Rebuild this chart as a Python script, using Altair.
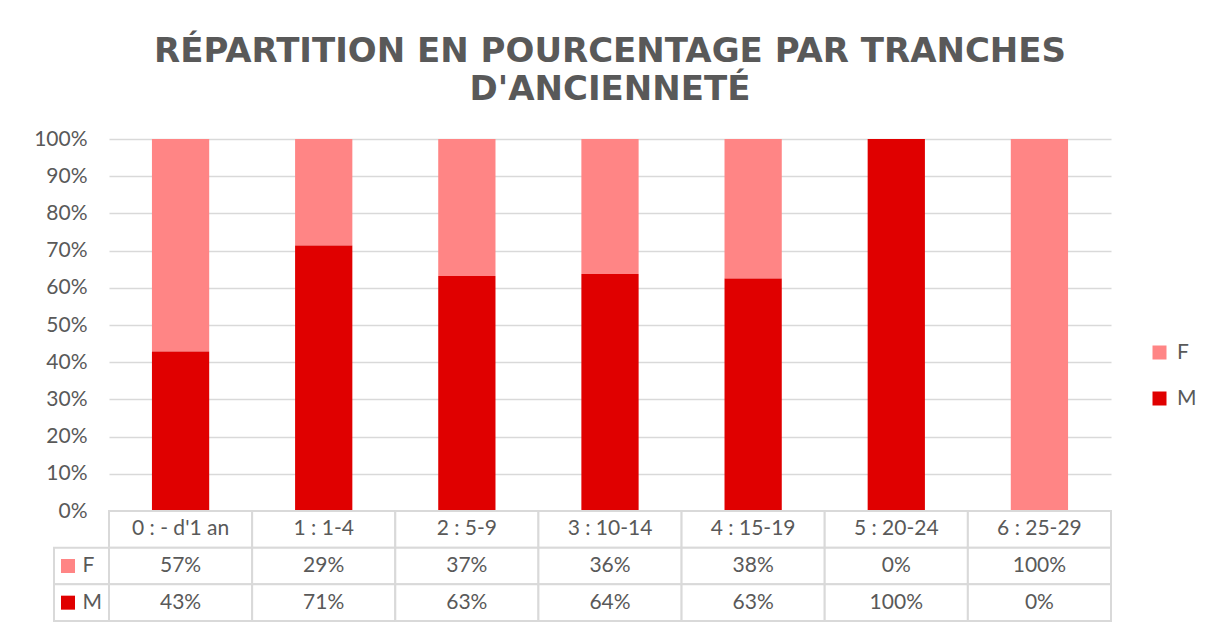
import altair as alt
import pandas as pd

categories = ["0 : - d'1 an", "1 : 1-4", "2 : 5-9", "3 : 10-14", "4 : 15-19", "5 : 20-24", "6 : 25-29"]
series = ["F", "M"]
f_values = [0.571, 0.286, 0.368, 0.363, 0.375, 0.0, 1.0]
m_values = [0.429, 0.714, 0.632, 0.637, 0.625, 1.0, 0.0]
series_colors = ["#FF8585", "#E00000"]
y_ticks = [0.0, 0.1, 0.2, 0.3, 0.4, 0.5, 0.6, 0.7, 0.8, 0.9, 1.0]
table_rows = ["cat", "F", "M"]
title_lines = ["RÉPARTITION EN POURCENTAGE PAR TRANCHES", "D'ANCIENNETÉ"]

TEXT = "#595959"
GRID = "#D9D9D9"
FONT = "Lato"
FS = 21
W, HP, HT = 1002, 372, 110

records = []
for i, c in enumerate(categories):
    records.append({"cat": c, "series": "F", "value": f_values[i], "order": 2})
    records.append({"cat": c, "series": "M", "value": m_values[i], "order": 1})
df = pd.DataFrame(records)
header_df = pd.DataFrame({"cat": categories, "row": ["cat"] * len(categories)})
cells_df = pd.DataFrame([{"cat": c, "row": r} for c in categories for r in table_rows])
lab_df = pd.DataFrame({"series": series, "col": ["lab"] * len(series)})

color = alt.Color(
    "series:N",
    scale=alt.Scale(domain=series, range=series_colors),
    legend=alt.Legend(
        title=None, orient="none", legendX=1040, legendY=203,
        symbolType="square", symbolSize=196, symbolStrokeWidth=0,
        labelFont=FONT, labelFontSize=FS, labelColor=TEXT,
        labelOffset=7, rowPadding=24, padding=0,
    ),
)

def x_tab():
    return alt.X("cat:N", sort=categories, axis=None, bandPosition=0.5,
                 scale=alt.Scale(type="band", domain=categories, paddingInner=0, paddingOuter=0))

def y_tab(field):
    return alt.Y(field, axis=None, bandPosition=0.5,
                 scale=alt.Scale(type="band", domain=table_rows, range=[HP, HP + HT],
                                 paddingInner=0, paddingOuter=0))

def x_lab():
    return alt.X("col:N", axis=None, bandPosition=0.5,
                 scale=alt.Scale(type="band", domain=["lab"], range=[-55, 0],
                                 paddingInner=0, paddingOuter=0))

bars = alt.Chart(df).mark_bar().encode(
    x=alt.X("cat:N", sort=categories, axis=None,
            scale=alt.Scale(type="band", domain=categories, paddingInner=0.6, paddingOuter=0.3)),
    y=alt.Y("value:Q", stack="zero",
            scale=alt.Scale(domain=[0, 1], range=[HP, 0]),
            axis=alt.Axis(values=y_ticks, format=".0%", title=None, domain=False, ticks=False,
                          grid=True, gridColor=GRID, gridWidth=1.5,
                          labelFont=FONT, labelFontSize=FS, labelColor=TEXT, labelPadding=22)),
    color=color,
    order=alt.Order("order:Q"),
)

cells = alt.Chart(cells_df).mark_rect(fill="white", stroke=GRID, strokeWidth=2).encode(
    x=x_tab(), y=y_tab("row:N"))

header = alt.Chart(header_df).mark_text(font=FONT, fontSize=FS, color=TEXT).encode(
    x=x_tab(), y=y_tab("row:N"), text="cat:N")

values = alt.Chart(df).mark_text(font=FONT, fontSize=FS, color=TEXT).encode(
    x=x_tab(), y=y_tab("series:N"), text=alt.Text("value:Q", format=".0%"))

lab_cells = alt.Chart(lab_df).mark_rect(fill="white", stroke=GRID, strokeWidth=2).encode(
    x=x_lab(), y=y_tab("series:N"))

lab_squares = alt.Chart(lab_df).mark_square(size=196, opacity=1, xOffset=-13.5).encode(
    x=x_lab(), y=y_tab("series:N"), color=color)

lab_text = alt.Chart(lab_df).mark_text(font=FONT, fontSize=FS, color=TEXT, align="left", dx=1).encode(
    x=x_lab(), y=y_tab("series:N"), text="series:N")

chart = alt.layer(bars, cells, header, values, lab_cells, lab_squares, lab_text).resolve_scale(
    x="independent", y="independent", color="shared"
).properties(
    width=W, height=HP + HT,
    title=alt.Title(title_lines, font="DejaVu Sans", fontSize=34, fontWeight="bold",
                    color=TEXT, anchor="middle", lineHeight=38, offset=21),
    padding={"left": 25, "top": 27, "right": 0, "bottom": 0},
    background="white",
).configure_view(stroke=None)

chart.save("out.html", embed_options={"renderer": "svg", "actions": False})
